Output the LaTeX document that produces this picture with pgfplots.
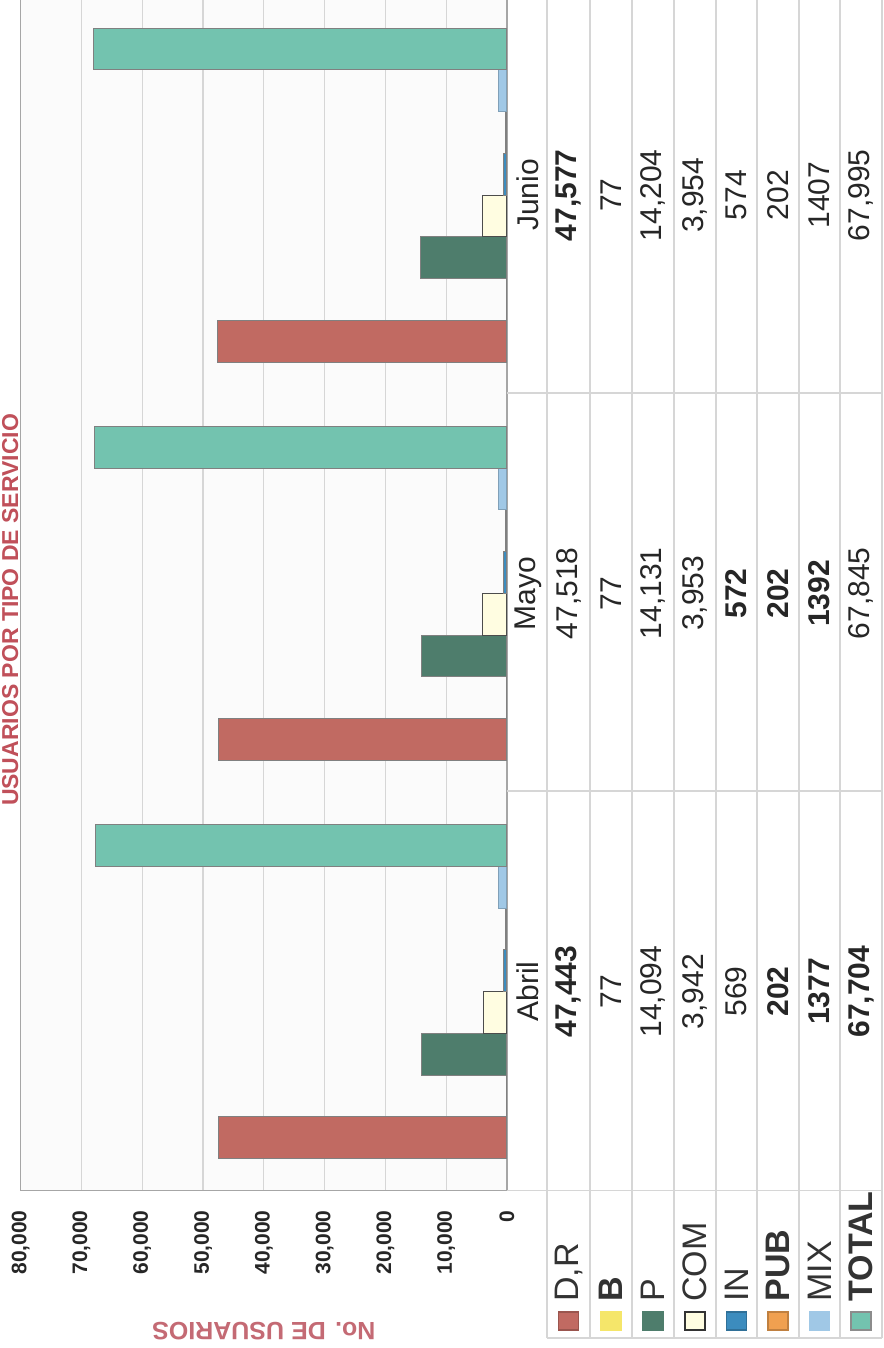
\documentclass[border=0pt]{standalone}
\usepackage{pgfplots}
\pgfplotsset{compat=1.18}
\usepackage{pgfplotstable}
\usepackage{fontspec}
\setmainfont{Liberation Sans}

\definecolor{cDR}{HTML}{C16A62}
\definecolor{cB}{HTML}{F5E66A}
\definecolor{cP}{HTML}{4E7D6C}
\definecolor{cCOM}{HTML}{FFFDE1}
\definecolor{cIN}{HTML}{3C8CBE}
\definecolor{cPUB}{HTML}{F0A050}
\definecolor{cMIX}{HTML}{A0C8E6}
\definecolor{cTOT}{HTML}{73C3AF}
\definecolor{titlered}{HTML}{C0505A}
\definecolor{labred}{HTML}{C46A74}
\definecolor{gridgray}{HTML}{D6D6D6}

% months: 0 Abril, 1 Mayo, 2 Junio
\pgfplotstableread{
cat DR B P COM IN PUB MIX TOTAL
0 47443 77 14094 3942 569 202 1377 67704
1 47518 77 14131 3953 572 202 1392 67845
2 47577 77 14204 3954 574 202 1407 67995
}\usuarios

\newcommand{\cell}[3]{\node[rotate=90,inner sep=0pt,text=black!85,font=\fontsize{15}{18}\selectfont] at (#1,#2) {#3};}
\newcommand{\key}[4]{%
  \fill[#2,draw=#3,line width=0.6pt] (#1-10,18) rectangle (#1+10,36);
  \node[rotate=90,anchor=west,inner sep=0pt,text=black!80,font=\fontsize{17}{20}\selectfont] at (#1,46) {#4};}

\begin{document}
\begin{tikzpicture}
\useasboundingbox (0,0) rectangle (441.5pt,674pt);
\clip (0,0) rectangle (441.5pt,674pt);

\begin{axis}[
    at={(10.35pt,78.65pt)}, anchor=south west,
    scale only axis, width=243.15pt, height=597.35pt,
    xbar, x dir=reverse,
    xmin=0, xmax=80000, ymin=-0.5, ymax=2.5,
    bar width=20.875pt,
    axis background/.style={fill=black!1.5},
    xtick={0,10000,...,80000},
    scaled x ticks=false,
    xmajorgrids=true,
    grid style={gridgray, line width=0.6pt},
    axis line style={black!35, line width=0.6pt},
    major tick length=0pt,
    /pgf/number format/1000 sep={,},
    /pgf/number format/assume math mode=true,
    xticklabel style={rotate=90, anchor=east, inner sep=0pt, text=black!85,
        font=\bfseries\fontsize{10.5}{12}\selectfont},
    xticklabel shift=9.65pt,
    ytick={0,1,2}, yticklabels={Abril,Mayo,Junio},
    yticklabel pos=right,
    yticklabel style={rotate=90, anchor=center, inner sep=0pt, text=black!85,
        font=\fontsize{15}{18}\selectfont},
    yticklabel shift=10.5pt,
    xlabel={No. DE USUARIOS},
    xlabel style={at={(axis description cs:0.5,0)}, anchor=center, rotate=180,
        yshift=70.15pt, text=labred, font=\bfseries\fontsize{12.5}{15}\selectfont},
]
\addplot[fill=cDR, draw=black!50, line width=0.5pt, bar shift=-73.06pt] table[x=DR, y=cat] {\usuarios};
\addplot[fill=cB, draw=black!50, line width=0.5pt, bar shift=-52.19pt] table[x=B, y=cat] {\usuarios};
\addplot[fill=cP, draw=black!50, line width=0.5pt, bar shift=-31.31pt] table[x=P, y=cat] {\usuarios};
\addplot[fill=cCOM, draw=black!70, line width=0.5pt, bar shift=-10.44pt] table[x=COM, y=cat] {\usuarios};
\addplot[fill=cIN, draw=black!50, line width=0.5pt, bar shift=10.44pt] table[x=IN, y=cat] {\usuarios};
\addplot[fill=cPUB, draw=black!50, line width=0.5pt, bar shift=31.31pt] table[x=PUB, y=cat] {\usuarios};
\addplot[fill=cMIX, draw=cMIX!80!black, line width=0.5pt, bar shift=52.19pt] table[x=MIX, y=cat] {\usuarios};
\addplot[fill=cTOT, draw=black!50, line width=0.5pt, bar shift=73.06pt] table[x=TOTAL, y=cat] {\usuarios};
\end{axis}

\begin{scope}[x=0.5pt,y=0.5pt]
% title in the narrow strip at the left edge
\node[rotate=90, anchor=base, inner sep=0pt, text=titlered,
      font=\bfseries\fontsize{11.5}{14}\selectfont] at (18,738) {USUARIOS POR TIPO DE SERVICIO};

% data table grid
\draw[gridgray, line width=0.6pt] (507,955) -- (882,955) (507,557) -- (882,557)
    (507,157.3) -- (882,157.3) (547,10) -- (882,10);
\foreach \px in {547,590,632,674,716,757,799,840,882}
    \draw[gridgray, line width=0.6pt] (\px,10) -- (\px,1352);

% row headers with keys
\key{568.5}{cDR}{cDR!80!black}{D,R}
\key{611}{cB}{cB}{\bfseries B}
\key{653}{cP}{cP}{P}
\key{695}{cCOM}{black!80}{COM}
\key{736.5}{cIN}{cIN!80!black}{IN}
\key{778}{cPUB}{cPUB!80!black}{\bfseries PUB}
\key{819.5}{cMIX}{cMIX}{MIX}
\key{861}{cTOT}{black!45}{\bfseries TOTAL}

% Abril
\cell{568.5}{356.4}{\bfseries 47,443}
\cell{611}{356.4}{77}
\cell{653}{356.4}{14,094}
\cell{695}{356.4}{3,942}
\cell{736.5}{356.4}{569}
\cell{778}{356.4}{\bfseries 202}
\cell{819.5}{356.4}{\bfseries 1377}
\cell{861}{356.4}{\bfseries 67,704}
% Mayo
\cell{568.5}{754.6}{47,518}
\cell{611}{754.6}{77}
\cell{653}{754.6}{14,131}
\cell{695}{754.6}{3,953}
\cell{736.5}{754.6}{\bfseries 572}
\cell{778}{754.6}{\bfseries 202}
\cell{819.5}{754.6}{\bfseries 1392}
\cell{861}{754.6}{67,845}
% Junio
\cell{568.5}{1152.8}{\bfseries 47,577}
\cell{611}{1152.8}{77}
\cell{653}{1152.8}{14,204}
\cell{695}{1152.8}{3,954}
\cell{736.5}{1152.8}{574}
\cell{778}{1152.8}{202}
\cell{819.5}{1152.8}{1407}
\cell{861}{1152.8}{67,995}
\end{scope}
\end{tikzpicture}
\end{document}
